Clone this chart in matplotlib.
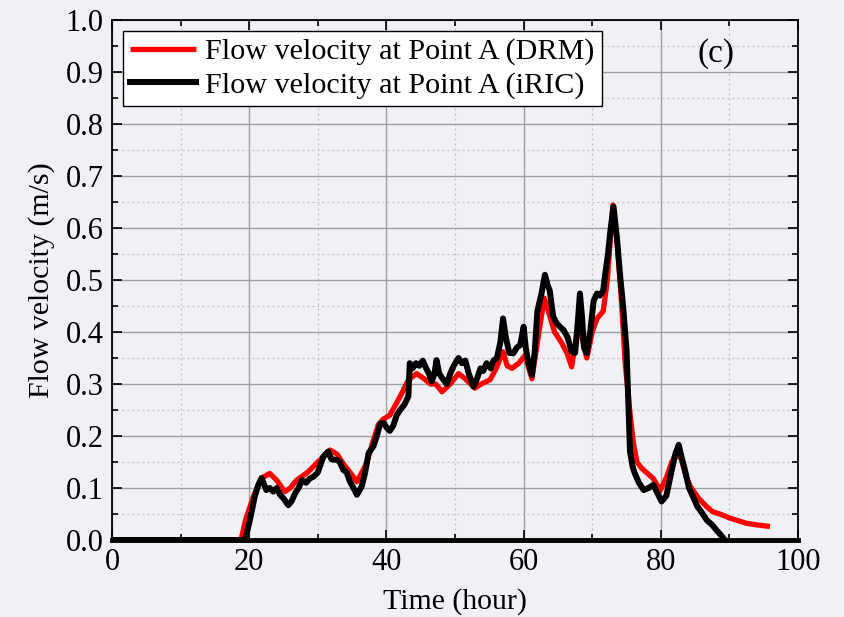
import numpy as np
import matplotlib.pyplot as plt
from matplotlib.ticker import MultipleLocator

# DRM series (red)
drm_t = [0, 18.8, 19.5, 20.6, 21.8, 23.0, 24.0, 25.2, 26.0, 26.9,
         28.6, 30.3, 31.8, 32.8, 33.7, 34.7, 35.7, 37.1, 38.1, 38.8,
         39.5, 40.5, 42.0, 43.2, 44.4, 45.5, 46.4, 47.2, 48.1, 49.3,
         50.5, 51.5, 52.9, 53.8, 55.1, 56.0, 57.0, 57.6, 58.3, 59.3,
         60.2, 61.2, 62.0, 63.0, 63.6, 64.5, 65.5, 66.3, 67.0, 67.8,
         68.3, 69.2, 70.0, 70.7, 71.6, 72.2, 73.0, 73.6, 74.3, 74.8,
         75.5, 76.0, 76.5, 77.2, 78.9, 79.9, 80.8, 81.6, 82.3, 83.0,
         83.6, 84.3, 85.5, 86.7, 87.6, 88.6, 90.1, 91.5, 92.5, 94.0,
         95.9]
drm_v = [0, 0, 0.04, 0.083, 0.119, 0.128, 0.115, 0.093, 0.10, 0.115,
         0.131, 0.154, 0.173, 0.165, 0.147, 0.13, 0.112, 0.147, 0.192, 0.221,
         0.232, 0.24, 0.276, 0.308, 0.32, 0.31, 0.30, 0.30, 0.285, 0.30,
         0.32, 0.31, 0.292, 0.30, 0.308, 0.33, 0.362, 0.335, 0.33, 0.34,
         0.355, 0.31, 0.38, 0.465, 0.44, 0.40, 0.38, 0.36, 0.333, 0.40,
         0.40, 0.35, 0.40, 0.426, 0.44, 0.50, 0.644, 0.58, 0.45, 0.34,
         0.244, 0.186, 0.15, 0.138, 0.118, 0.095, 0.12, 0.15, 0.168, 0.155,
         0.125, 0.103, 0.08, 0.064, 0.054, 0.05, 0.042, 0.036, 0.032, 0.029,
         0.026]

# iRIC series (black)
iric_t = [0, 19.4, 20.1, 20.8, 21.3, 21.8, 22.5, 23.0, 23.5, 24.0,
          24.5, 25.0, 25.7, 26.2, 26.7, 27.2, 27.7, 28.3, 28.8, 29.4,
          30.0, 30.8, 31.5, 32.0, 32.8, 33.2, 33.7, 34.2, 34.7, 35.2,
          35.7, 36.4, 36.9, 37.4, 38.1, 38.6, 39.1, 39.6, 40.1, 40.5,
          41.0, 41.5, 42.0, 42.6, 43.2, 43.4, 43.8, 44.3, 44.8, 45.3,
          45.8, 46.2, 46.6, 47.0, 47.3, 47.7, 48.2, 48.8, 49.3, 49.8,
          50.5, 51.0, 51.5, 52.0, 52.7, 53.2, 53.7, 54.1, 54.6, 55.2,
          55.6, 56.1, 56.6, 57.0, 57.4, 57.9, 58.5, 59.0, 59.5, 60.0,
          60.3, 60.7, 61.2, 61.6, 62.0, 62.6, 63.1, 63.5, 63.8, 64.3,
          64.8, 65.3, 65.8, 66.4, 67.0, 67.5, 67.9, 68.2, 68.5, 68.8,
          69.2, 69.7, 70.2, 70.7, 71.1, 71.6, 71.9, 72.3, 72.6, 73.1,
          73.6, 74.1, 74.5, 75.0, 75.3, 75.5, 75.9, 76.2, 76.8, 77.5,
          78.2, 78.9, 79.5, 80.1, 80.8, 81.6, 82.1, 82.6, 83.0, 83.5,
          84.1, 84.7, 85.3, 86.0, 86.7, 87.4, 88.1, 88.7, 89.3]
iric_v = [0, 0, 0.038, 0.083, 0.105, 0.119, 0.096, 0.10, 0.093, 0.10,
          0.087, 0.08, 0.067, 0.075, 0.09, 0.10, 0.115, 0.11, 0.118, 0.122,
          0.13, 0.16, 0.17, 0.155, 0.154, 0.15, 0.135, 0.13, 0.112, 0.10,
          0.087, 0.103, 0.13, 0.167, 0.18, 0.20, 0.224, 0.225, 0.215, 0.21,
          0.22, 0.24, 0.25, 0.26, 0.276, 0.34, 0.33, 0.34, 0.335, 0.345,
          0.33, 0.32, 0.305, 0.32, 0.346, 0.32, 0.31, 0.30, 0.32, 0.335,
          0.35, 0.34, 0.345, 0.32, 0.295, 0.31, 0.33, 0.325, 0.34, 0.33,
          0.345, 0.35, 0.38, 0.426, 0.39, 0.36, 0.359, 0.37, 0.375, 0.41,
          0.37, 0.34, 0.317, 0.36, 0.44, 0.474, 0.51, 0.49, 0.48, 0.43,
          0.417, 0.41, 0.404, 0.39, 0.362, 0.36, 0.42, 0.474, 0.43, 0.37,
          0.359, 0.40, 0.46, 0.474, 0.47, 0.48, 0.513, 0.55, 0.59, 0.641,
          0.58, 0.503, 0.449, 0.365, 0.25, 0.17, 0.14, 0.128, 0.11, 0.096,
          0.10, 0.106, 0.09, 0.074, 0.085, 0.135, 0.165, 0.183, 0.16, 0.135,
          0.10, 0.083, 0.065, 0.052, 0.038, 0.03, 0.019, 0.01, 0]

plt.rcParams['font.family'] = ['Liberation Serif', 'DejaVu Serif']

bg = '#eff1f4'
fig = plt.figure(figsize=(8.45, 6.17), dpi=100, facecolor=bg)
ax = fig.add_axes([0.1325, 0.1248, 0.812, 0.8428], facecolor=bg)

ax.plot(drm_t, drm_v, color='#ff0000', lw=3.8, solid_capstyle='butt',
        label='Flow velocity at Point A (DRM)', zorder=3)
ax.plot(iric_t, iric_v, color='black', lw=4.3, solid_joinstyle='round',
        label='Flow velocity at Point A (iRIC)', zorder=4)

ax.set_xlim(0, 100)
ax.set_ylim(0, 1.0)
ax.xaxis.set_major_locator(MultipleLocator(20))
ax.xaxis.set_minor_locator(MultipleLocator(10))
ax.yaxis.set_major_locator(MultipleLocator(0.1))
ax.yaxis.set_minor_locator(MultipleLocator(0.05))
ax.yaxis.set_major_formatter(plt.FormatStrFormatter('%.1f'))

ax.grid(which='major', color='#a0a0a0', lw=1.0, ls='-')
ax.grid(which='minor', color='#c0c0c0', lw=0.9, ls=(0, (1.5, 2.5)))
ax.set_axisbelow(True)

ax.tick_params(which='both', direction='in', top=True, right=True,
               labelsize=22, width=1.2, pad=6)
ax.tick_params(which='major', length=7)
ax.tick_params(which='minor', length=4)
for s in ax.spines.values():
    s.set_linewidth(1.3)
ax.spines['bottom'].set_linewidth(3.5)

ax.set_xlabel('Time (hour)', fontsize=21.5, labelpad=8)
ax.set_ylabel('Flow velocity (m/s)', fontsize=21.5, labelpad=8)

leg = ax.legend(loc='upper left', fontsize=21.7, frameon=True, fancybox=False,
                edgecolor='black', framealpha=1, handlelength=2.2,
                borderpad=0.25, labelspacing=0.2, handletextpad=0.3,
                borderaxespad=0.35)
leg.get_frame().set_linewidth(1.0)

ax.text(88, 0.935, '(c)', fontsize=24, ha='center', va='center')

fig.savefig('out.png', dpi=100, facecolor=bg)
